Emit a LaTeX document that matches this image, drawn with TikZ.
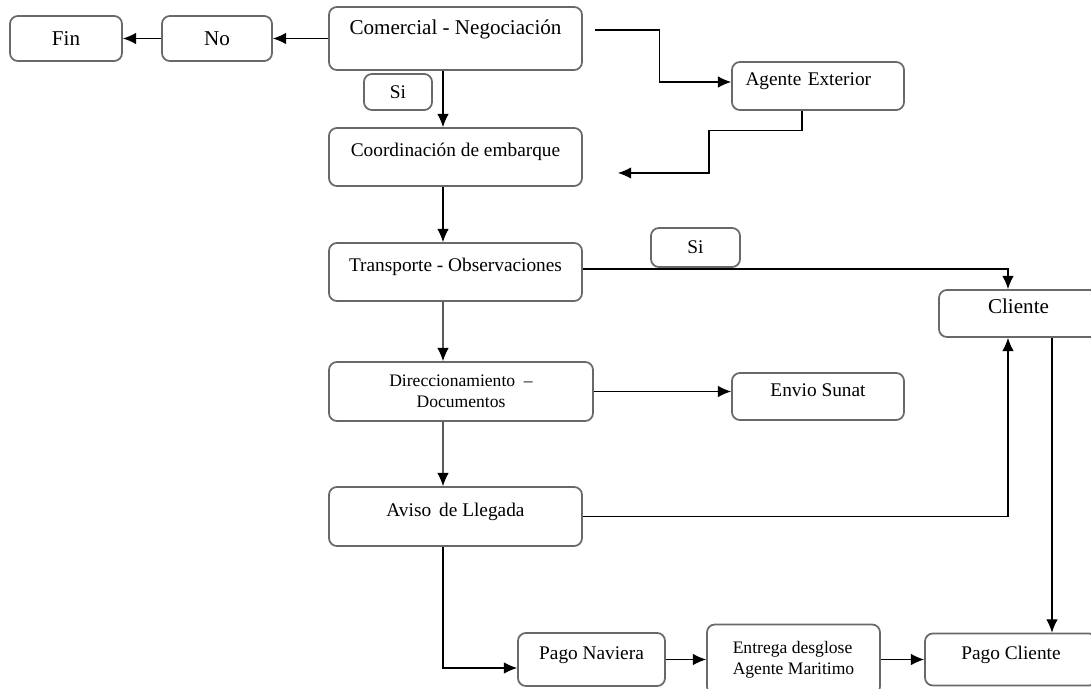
\documentclass[tikz,border=0pt]{standalone}
\usepackage{fontspec}
\setmainfont{Liberation Serif}
\usetikzlibrary{shapes.geometric, arrows.meta}
\definecolor{boxgray}{RGB}{105,105,105}
\tikzstyle{process} = [rectangle, rounded corners=4.5pt, minimum width=5.06cm, minimum height=1.16cm, text centered, draw=boxgray, line width=1pt, font=\fontsize{11}{13}\selectfont, text height=0.3cm, text depth=0.3cm]
\tikzstyle{answer} = [rectangle, rounded corners=4.5pt, text centered, draw=boxgray, line width=1pt, font=\fontsize{12}{14}\selectfont]
\tikzstyle{twoline} = [rectangle, rounded corners=4.5pt, draw=boxgray, line width=1pt, font=\fontsize{10}{12}\selectfont]
\tikzstyle{arrow} = [line width=0.6pt, -{Latex[length=7.5pt,width=6.5pt]}]

\begin{document}
\begin{tikzpicture}[node distance=2.3cm]
    \useasboundingbox (0,0) rectangle (21.82,-13.78);
    \clip (0,0) rectangle (21.82,-13.78);
    \node (com) [process, minimum height=1.26cm, font=\fontsize{12}{14}\selectfont, text depth=0.44cm] at (9.11,-0.77) {Comercial - Negociación};
    \node (no) [answer, left of=com, xshift=-2.47cm, minimum width=2.2cm, minimum height=0.9cm] {No};
    \node (fin) [answer, left of=no, xshift=-0.72cm, minimum width=2.24cm, minimum height=0.9cm] {Fin};
    \node (si1) [answer, below of=com, xshift=-1.15cm, yshift=1.23cm, minimum width=1.36cm, minimum height=0.72cm, font=\fontsize{11}{13}\selectfont] {Si};
    \node (ext) [process, right of=com, xshift=4.95cm, yshift=-0.95cm, minimum width=3.44cm, minimum height=0.96cm, text width=2.9cm, align=left] {Agente Exterior};
    \node (coord) [process, below of=com, yshift=-0.07cm] {Coordinación de embarque};
    \node (trans) [process, below of=coord] {Transporte - Observaciones};
    \node (si2) [answer, right of=trans, xshift=2.5cm, yshift=0.49cm, minimum width=1.78cm, minimum height=0.78cm, font=\fontsize{11}{13}\selectfont] {Si};
    \node (cli) [process, right of=trans, xshift=8.96cm, yshift=-0.83cm, minimum width=3.18cm, minimum height=0.94cm, font=\fontsize{12}{14}\selectfont] {Cliente};
    \node (dir) [twoline, below of=trans, xshift=0.11cm, yshift=-0.09cm, minimum width=5.28cm, minimum height=1.18cm, align=center] {Direccionamiento \ –\\Documentos};
    \node (env) [process, right of=dir, xshift=4.84cm, yshift=-0.1cm, minimum width=3.44cm, minimum height=0.94cm] {Envio Sunat};
    \node (avi) [process, below of=dir, xshift=-0.11cm, yshift=-0.2cm, minimum height=1.18cm] {Aviso \,de Llegada};
    \node (pnav) [process, below of=avi, xshift=2.72cm, yshift=-0.56cm, minimum width=2.94cm, minimum height=1.06cm] {Pago Naviera};
    \node (ent) [twoline, right of=pnav, xshift=1.74cm, minimum width=3.46cm, minimum height=1.4cm, align=left] {Entrega desglose\\Agente Maritimo};
    \node (pcl) [process, right of=ent, xshift=2.05cm, minimum width=3.44cm, minimum height=1.04cm] {Pago Cliente};
    \coordinate (back) at (12.36,-3.46);

    \draw [arrow] (com.west) -- (no.east);
    \draw [arrow] (no.west) -- (fin.east);
    \draw [arrow] ([shift={(0.24,0.17)}]com.east) -| ([shift={(-1.44,0.08)}]ext.west) -- ([yshift=0.08cm]ext.west);
    \draw [arrow] ([xshift=-0.25cm]com.south) -- ([xshift=-0.25cm]coord.north);
    \draw [arrow] ([xshift=-0.32cm]ext.south) -- ++(0,-0.4) -- ++(-1.86,0) |- (back);
    \draw [arrow] ([xshift=-0.25cm]coord.south) -- ([xshift=-0.25cm]trans.north);
    \draw [arrow] ([yshift=0.06cm]trans.east) -| ([xshift=-0.21cm]cli.north);
    \draw [arrow] ([xshift=-0.25cm]trans.south) -- ([xshift=-0.36cm]dir.north);
    \draw [arrow] (dir.east) -- (dir.east -| env.west);
    \draw [arrow] ([xshift=-0.36cm]dir.south) -- ([xshift=-0.25cm]avi.north);
    \draw [arrow] (avi.east) -| ([xshift=-0.21cm]cli.south);
    \draw [arrow] ([xshift=0.67cm]cli.south) -- ([xshift=0.67cm]cli.south |- pcl.north);
    \draw [arrow] ([xshift=-0.25cm]avi.south) |- ([yshift=-0.17cm]pnav.west);
    \draw [arrow] (pnav.east) -- (pnav.east -| ent.west);
    \draw [arrow] (ent.east) -- (ent.east -| pcl.west);

\end{tikzpicture}
\end{document}
